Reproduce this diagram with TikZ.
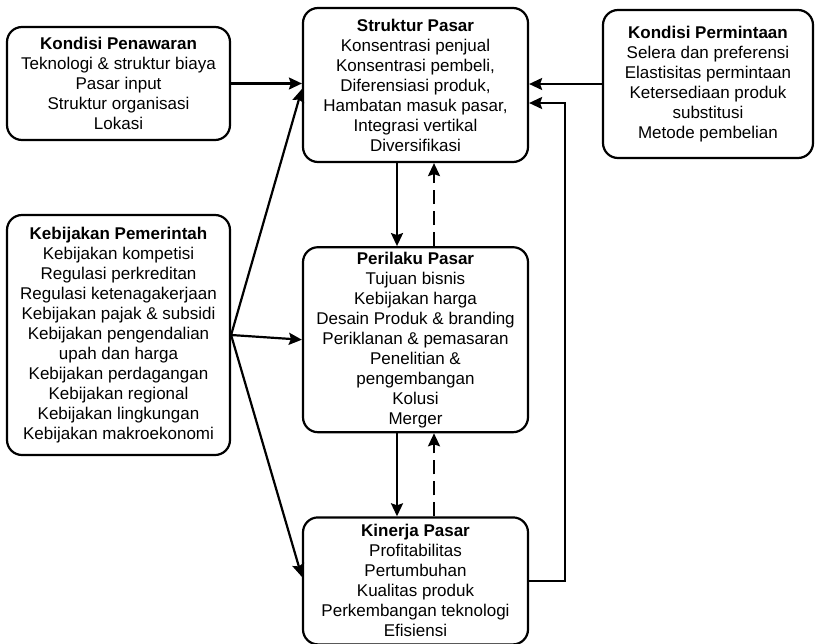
\documentclass[tikz,border=0pt]{standalone}
\usepackage{fontspec}
\setmainfont{Liberation Sans}
\usepackage{tikz}
\usetikzlibrary{arrows.meta,positioning}

\begin{document}
\begin{tikzpicture}[
  x=1pt,y=-1pt,
  node distance=83pt,
  every node/.style={font=\fontsize{17}{20}\selectfont,align=center},
  box/.style={draw=black,line width=2.2pt,rounded corners=15pt,fill=white,
    minimum width=225pt,inner sep=2pt},
  arrow/.style={-{Stealth[length=13pt,width=12pt,inset=2pt]},line width=2.2pt,black},
  back/.style={arrow,dash pattern=on 14pt off 7pt}
]
\useasboundingbox (0,0) rectangle (816,643);
\node[box,minimum height=154pt] (sp) at (415.5,85) {\textbf{Struktur Pasar}\\Konsentrasi penjual\\Konsentrasi pembeli,\\Diferensiasi produk,\\Hambatan masuk pasar,\\Integrasi vertikal\\Diversifikasi};
\node[box,minimum height=185pt,below=of sp] (pp) {\textbf{Perilaku Pasar}\\Tujuan bisnis\\Kebijakan harga\\Desain Produk \& branding\\Periklanan \& pemasaran\\Penelitian \&\\pengembangan\\Kolusi\\Merger};
\node[box,minimum height=127pt,below=of pp] (kp) {\textbf{Kinerja Pasar}\\Profitabilitas\\Pertumbuhan\\Kualitas produk\\Perkembangan teknologi\\Efisiensi};
\node[box,minimum width=223pt,minimum height=113pt] (pn) at (118.5,83.5) {\textbf{Kondisi Penawaran}\\Teknologi \& struktur biaya\\Pasar input\\Struktur organisasi\\Lokasi};
\node[box,minimum width=223pt,minimum height=240pt] (kb) at (118.5,335) {\textbf{Kebijakan Pemerintah}\\Kebijakan kompetisi\\Regulasi perkreditan\\Regulasi ketenagakerjaan\\Kebijakan pajak \& subsidi\\Kebijakan pengendalian\\upah dan harga\\Kebijakan perdagangan\\Kebijakan regional\\Kebijakan lingkungan\\Kebijakan makroekonomi};
\node[box,minimum width=210pt,minimum height=148pt] (pm) at (708,84) {\textbf{Kondisi Permintaan}\\Selera dan preferensi\\Elastisitas permintaan\\Ketersediaan produk\\substitusi\\Metode pembelian};
% inputs
\draw[arrow] (pn.east) -- (pn.east -| sp.west);
\draw[arrow] (pm.west) -- (pm.west -| sp.east);
\draw[arrow] (kb.east) -- ([yshift=-4pt]sp.west);
\draw[arrow] (kb.east) -- (pp.west);
\draw[arrow] (kb.east) -- ([yshift=4pt]kp.west);
% main chain and feedback
\draw[arrow] ([xshift=-18.5pt]sp.south) -- ([xshift=-18.5pt]pp.north);
\draw[back] ([xshift=18.5pt]pp.north) -- ([xshift=18.5pt]sp.south);
\draw[arrow] ([xshift=-18.5pt]pp.south) -- ([xshift=-18.5pt]kp.north);
\draw[back] ([xshift=18.5pt]kp.north) -- ([xshift=18.5pt]pp.south);
\draw[arrow] (kp.east) -- ++(36,0) |- ([yshift=-18pt]sp.east);
\end{tikzpicture}
\end{document}
